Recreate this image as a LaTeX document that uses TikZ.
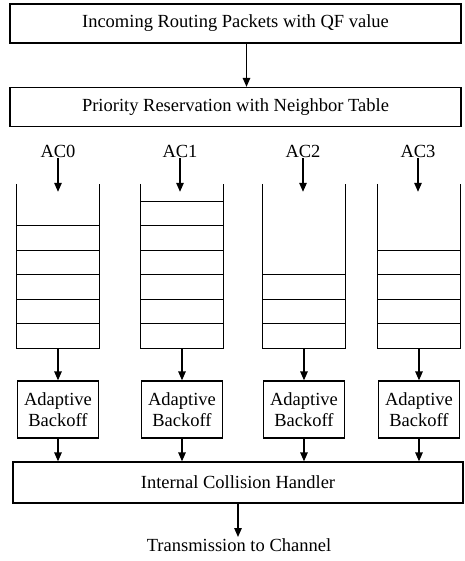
\documentclass[tikz,border=0pt]{standalone}
\usepackage{fontspec}
\setmainfont{Liberation Serif}
\usetikzlibrary{arrows.meta}

\begin{document}
\begin{tikzpicture}[x=1pt, y=-1pt,
        b/.style={draw, line width=1.3pt, minimum width=451pt, minimum height=39pt, inner sep=0pt},
        bo/.style={draw, line width=1.3pt, minimum width=81pt, minimum height=57pt, align=center, inner sep=0pt},
        queue/.style={minimum width=82pt, minimum height=164pt, inner sep=0pt},
        lbl/.style={inner sep=1pt},
        ar/.style={line width=1.3pt, -{Triangle[width=7.5pt,length=9pt]}},
        every node/.style={font=\fontsize{18.5}{21}\selectfont}]
    \useasboundingbox (0,0) rectangle (464,561);

    \node[b] (in) at (235.5,23.5) {Incoming Routing Packets with QF value};
    \node[b] (prio) at (235.5,107) {Priority Reservation with Neighbor Table};
    \draw[ar] ([xshift=11pt]in.south) -- ([xshift=11pt]prio.north);

    \foreach \i/\x/\lx/\n in {0/58/58/5, 1/182/180/6, 2/304/303/3, 3/419/418/4} {
        \node[lbl] (ac\i) at (\lx,151) {AC\i};
        \node[queue] (q\i) at (\x,266) {};
        \draw[line width=1.3pt] (q\i.north west) -- (q\i.south west) -- (q\i.south east) -- (q\i.north east);
        \foreach \k in {1,...,\n}
            \draw[line width=1.3pt] ([yshift=\k*24.5pt]q\i.south west) -- ([yshift=\k*24.5pt]q\i.south east);
        \draw[ar] (ac\i) -- ([yshift=-8pt]ac\i |- q\i.north);
        \node[bo] (bo\i) at (\x,409.5) {Adaptive\\Backoff};
        \draw[ar] (q\i.south) -- (bo\i.north);
    }

    \node[b, minimum width=450pt, minimum height=41pt] (ich) at (238,482.5) {Internal Collision Handler};
    \foreach \i in {0,...,3}
        \draw[ar] (bo\i.south) -- (bo\i.south |- ich.north);

    \node[lbl, anchor=north] (tx) at (239,537) {Transmission to Channel};
    \draw[ar] (ich.south) -- (ich.south |- tx.north);
\end{tikzpicture}
\end{document}
